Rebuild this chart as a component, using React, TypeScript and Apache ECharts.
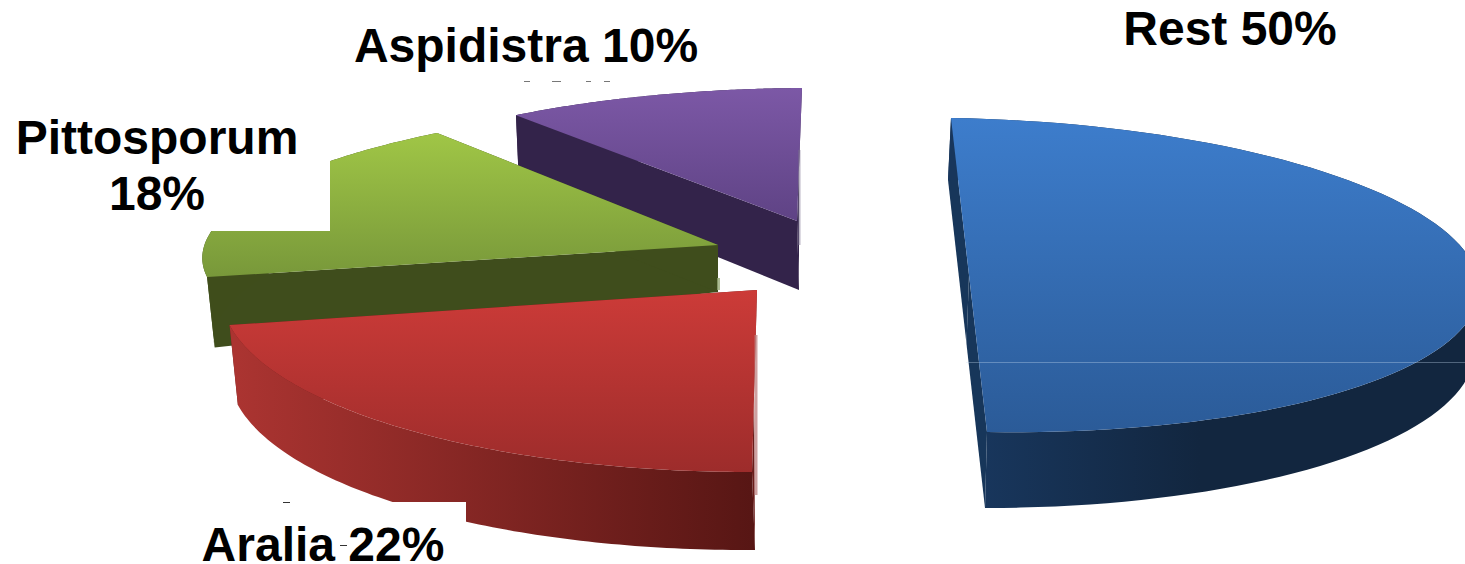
import React, { useEffect, useRef } from "react";
import * as echarts from "echarts";

// Shares of the planting, clockwise from twelve o'clock.
const plantNames = ["Rest", "Aralia", "Pittosporum", "Aspidistra"];
const plantShares = [50, 22, 18, 10];

// Each wedge is exploded and foreshortened on its own: an affine frame maps
// the unit circle to the upper face and another to the lower face.
type Frame = { cx: number; cy: number; a: number; b: number; c: number; d: number };
const upperFrames: Frame[] = [
  { cx: 969, cy: 275, a: 510, b: 18, c: 8, d: 157 },
  { cx: 757, cy: 290, a: 536, b: -5, c: -1, d: 182 },
  { cx: 718, cy: 245, a: 515, b: -27, c: -5.5, d: 142.5 },
  { cx: 797, cy: 221, a: 485, b: -5, c: -3, d: 133 },
];
const lowerFrames: Frame[] = [
  { cx: 966.5, cy: 344, a: 508, b: 18.5, c: 0, d: 164 },
  { cx: 754, cy: 368, a: 525.6, b: 1, c: -3, d: 182 },
  { cx: 718, cy: 292, a: 500, b: -65, c: -30, d: 139 },
  { cx: 799, cy: 290, a: 477, b: 0, c: 12, d: 132 },
];

// Vertical shading of the upper faces: [y0, y1, colour at y0, colour at y1].
const faceShades: [number, number, string, string][] = [
  [118, 432, "#3D7DCC", "#2B5B98"],
  [290, 472, "#CC3B38", "#9D2C2B"],
  [133, 277, "#A0C646", "#78983A"],
  [88, 220, "#7C58A6", "#5F4385"],
];
// Horizontal shading of the rim: [x0, x1, colour at x0, colour at x1].
const rimShades: [number, number, string, string][] = [
  [985, 1200, "#18365C", "#12263F"],
  [235, 755, "#AB3431", "#571614"],
  [205, 720, "#3F4D1B", "#3F4D1B"],
  [516, 800, "#33234A", "#33234A"],
];
const cutColors = ["#17365A", "#6A1C1A", "#3F4D1C", "#33234A"];

const paintOrder = [3, 2, 1, 0];

const toRad = (share: number) => (share / 100) * Math.PI * 2;

function onFrame(f: Frame, t: number): number[] {
  return [f.cx + f.a * Math.cos(t) + f.b * Math.sin(t), f.cy + f.c * Math.cos(t) + f.d * Math.sin(t)];
}

function arcPoints(f: Frame, t0: number, t1: number): number[][] {
  const steps = 90;
  const pts: number[][] = [];
  for (let i = 0; i <= steps; i++) pts.push(onFrame(f, t0 + ((t1 - t0) * i) / steps));
  return pts;
}

const verticalFill = (s: [number, number, string, string]) =>
  new echarts.graphic.LinearGradient(0, s[0], 0, s[1], [
    { offset: 0, color: s[2] },
    { offset: 1, color: s[3] },
  ], true);

const horizontalFill = (s: [number, number, string, string]) =>
  new echarts.graphic.LinearGradient(s[0], 0, s[1], 0, [
    { offset: 0, color: s[2] },
    { offset: 1, color: s[3] },
  ], true);

function renderWedge(_params: any, api: any) {
  const i = api.value(0) as number;
  const before = plantShares.slice(0, i).reduce((sum, v) => sum + v, 0);
  const t0 = -Math.PI / 2 + toRad(before);
  const t1 = t0 + toRad(api.value(1) as number);
  const up = upperFrames[i];
  const low = lowerFrames[i];
  const upApex = [up.cx, up.cy];
  const lowApex = [low.cx, low.cy];
  const upArc = arcPoints(up, t0, t1);
  const lowArc = arcPoints(low, t0, t1);
  const poly = (points: number[][], fill: any) => ({
    type: "polygon",
    shape: { points },
    style: { fill },
    silent: true,
  });
  return {
    type: "group",
    children: [
      poly([upApex, upArc[0], lowArc[0], lowApex], cutColors[i]),
      poly([upApex, upArc[upArc.length - 1], lowArc[lowArc.length - 1], lowApex], cutColors[i]),
      poly([...upArc, ...lowArc.slice().reverse()], horizontalFill(rimShades[i])),
      poly([upApex, ...upArc], verticalFill(faceShades[i])),
    ],
  };
}

const labelFont = 'bold 48px "Liberation Sans", Arial, sans-serif';

function label(text: string, x: number, y: number, lineHeight = 56) {
  return {
    type: "text",
    z: 101,
    silent: true,
    style: { text, x, y, font: labelFont, fill: "#000", textAlign: "center", textVerticalAlign: "top", lineHeight },
  };
}

function patch(x: number, y: number, width: number, height: number, fill = "#fff") {
  return { type: "rect", z: 100, silent: true, shape: { x, y, width, height }, style: { fill } };
}

export default function App() {
  const ref = useRef<HTMLDivElement>(null);
  useEffect(() => {
    document.body.style.margin = "0";
    const chart = echarts.init(ref.current!, undefined, { renderer: "svg" });
    const shareLabel = (i: number) => `${plantNames[i]} ${plantShares[i]}%`;
    chart.setOption({
      animation: false,
      backgroundColor: "#fff",
      series: [
        {
          type: "custom",
          coordinateSystem: "none",
          silent: true,
          renderItem: renderWedge,
          data: paintOrder.map((i) => [i, plantShares[i]]),
        },
      ],
      graphic: {
        elements: [
          // Blanked boxes behind the labels
          patch(190, 120, 140, 111),
          patch(190, 502, 276, 62),
          patch(500, 70, 200, 11),
          // Thin seam across the blue wedge
          patch(966, 362, 499, 1, "rgba(200,220,240,0.35)"),
          // Pale slivers along the cut edges
          patch(754.5, 335, 3, 160, "rgba(190,130,130,0.75)"),
          patch(798, 150, 2.5, 95, "rgba(120,110,140,0.5)"),
          patch(717, 278, 3, 12, "rgba(150,170,120,0.8)"),
          // Stray marks left in the blanked boxes
          patch(524, 81, 6, 1, "#777"),
          patch(552, 81, 9, 1, "#777"),
          patch(586, 81, 5, 1, "#777"),
          patch(604, 81, 6, 1, "#777"),
          patch(283, 502, 7, 1, "#333"),
          patch(340, 545, 7, 1, "#333"),
          label(shareLabel(3), 526, 17),
          label(shareLabel(0), 1230, 0),
          label(`${plantNames[2]}\n${plantShares[2]}%`, 157, 109),
          label(shareLabel(1), 323, 524, 40),
        ],
      },
    });
    return () => chart.dispose();
  }, []);
  return <div ref={ref} style={{ position: "absolute", left: 0, top: 0, width: 1465, height: 564 }} />;
}
